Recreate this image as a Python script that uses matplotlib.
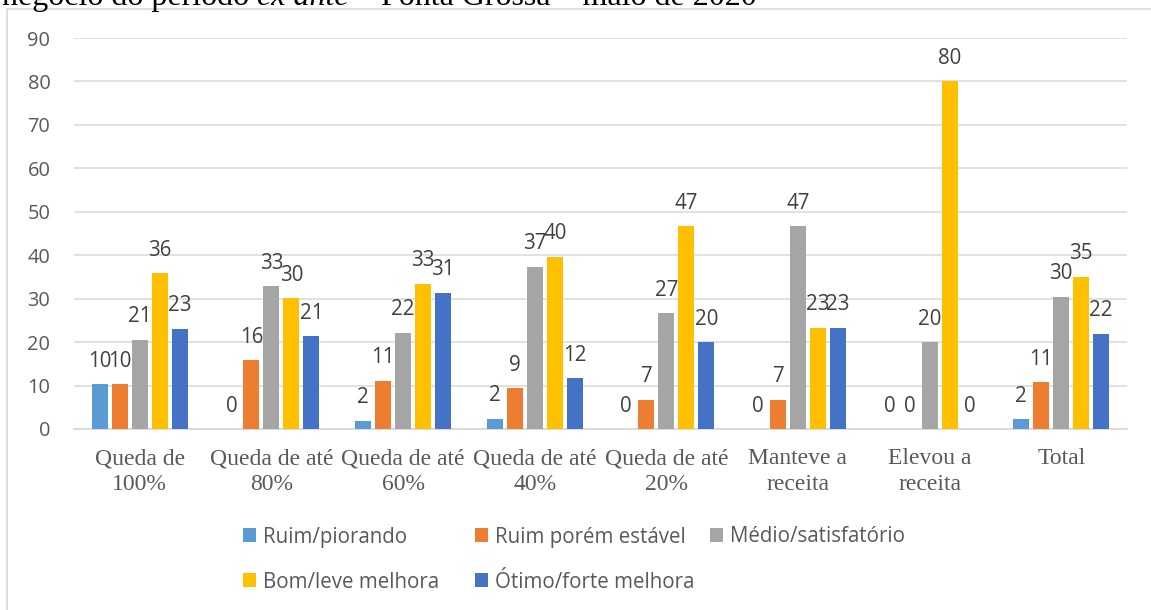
import matplotlib
matplotlib.use("Agg")
import matplotlib.pyplot as plt
from matplotlib.patches import Rectangle
import numpy as np

W, H = 1151, 610

categories = ["Queda de\n100%", "Queda de até\n80%", "Queda de até\n60%", "Queda de até\n40%",
              "Queda de até\n20%", "Manteve a\nreceita", "Elevou a\nreceita", "Total"]
series_names = ["Ruim/piorando", "Ruim porém estável", "Médio/satisfatório",
                "Bom/leve melhora", "Ótimo/forte melhora"]
ruim_piorando = [10.3, 0, 1.9, 2.4, 0, 0, 0, 2.3]
ruim_estavel = [10.3, 15.8, 11.1, 9.4, 6.7, 6.7, 0, 10.8]
medio = [20.6, 32.9, 22.2, 37.4, 26.7, 46.7, 20.0, 30.4]
bom = [35.9, 30.1, 33.4, 39.7, 46.7, 23.3, 80.0, 35.1]
otimo = [23.1, 21.4, 31.4, 11.7, 20.0, 23.3, 0, 21.9]
series = [ruim_piorando, ruim_estavel, medio, bom, otimo]
colors = ["#5B9BD5", "#ED7D31", "#A5A5A5", "#FFC000", "#4472C4"]
yticks = [0, 10, 20, 30, 40, 50, 60, 70, 80, 90]

sans = ["Open Sans", "DejaVu Sans"]
serif = ["Liberation Serif", "DejaVu Serif"]

fig = plt.figure(figsize=(W / 100, H / 100), dpi=100)

# outer chart frame (extends beyond the image on the right and bottom)
fig.patches.append(Rectangle((7 / W, -0.1), 1.2, 1 - 9 / H + 0.1, transform=fig.transFigure,
                             fill=False, edgecolor="#d9d9d9", linewidth=1.2))

# cropped caption text at the very top
tx = 2 / W
ty = 1 - 4.7 / H
parts = [("negócio do período ", "normal"), ("ex ante", "italic"),
         (" – Ponta Grossa – maio de 2020", "normal")]
renderer = fig.canvas.get_renderer()
for s, st in parts:
    t = fig.text(tx, ty, s, fontsize=23, family=serif, style=st, color="black",
                 va="baseline", ha="left")
    bb = t.get_window_extent(renderer)
    tx = bb.x1 / W

ax = fig.add_axes([74 / W, 1 - 429 / H, (1127 - 74) / W, (429 - 38) / H])
x = np.arange(len(categories))
step = 20 / 131.6
bw = 16 / 131.6
containers = []
for i, (vals, c) in enumerate(zip(series, colors)):
    bc = ax.bar(x + (i - 2) * step, vals, width=bw, color=c, zorder=3, label=series_names[i])
    containers.append(bc)
    ax.bar_label(bc, labels=[f"{v:.0f}" for v in vals], padding=9, fontsize=14.8,
                 family=sans, color="#404040")

ax.set_xlim(-0.5, len(categories) - 0.5)
ax.set_ylim(0, 90)
ax.set_yticks(yticks)
ax.set_yticklabels([str(v) for v in yticks], family=sans, fontsize=14.4, color="#595959")
ax.set_xticks(x)
ax.set_xticklabels(categories, family=serif, fontsize=17, color="#595959", linespacing=1.3)
ax.tick_params(axis="y", length=0, pad=17)
ax.tick_params(axis="x", length=0, pad=14)
ax.grid(axis="y", color="#d9d9d9", linewidth=1.1, zorder=0)
ax.set_axisbelow(True)
for sp in ["top", "right", "left"]:
    ax.spines[sp].set_visible(False)
ax.spines["bottom"].set_color("#d9d9d9")
ax.spines["bottom"].set_linewidth(1.3)

# legend entries placed like the Excel legend (row-major, fixed columns)
legend_pos = [(243, 537), (475, 537), (710, 537), (243, 582), (475, 582)]
for bc, name, (lx, ly) in zip(containers, series_names, legend_pos):
    lg = fig.legend([bc], [name], loc="center left", bbox_to_anchor=(lx / W, 1 - ly / H),
                    frameon=False, borderpad=0, borderaxespad=0, handlelength=0.65,
                    handleheight=0.65, handletextpad=0.3,
                    prop={"family": sans, "size": 14.8})
    for txt in lg.get_texts():
        txt.set_color("#595959")

fig.savefig("out.png", dpi=100)
